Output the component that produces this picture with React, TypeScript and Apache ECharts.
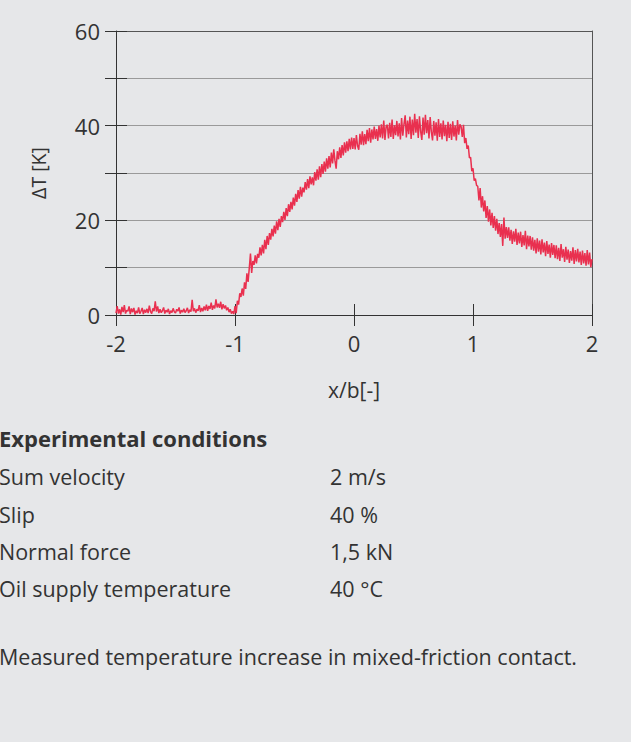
import React, { useEffect, useRef } from "react";
import * as echarts from "echarts";

const X_START = -2;
const X_STEP = 0.01;

// Measured temperature increase ΔT [K], one value per 0.01 of x/b from -2 to 2
const deltaT: number[] = [
  0.4, 1.9, 0.3, 1.2, 0.1, 1.7, 0.6, 2.1, 0.3, 1.0,
  0.8, 1.8, 0.2, 1.4, 0.6, 1.5, 0.1, 0.9, 0.4, 1.6,
  0.3, 0.8, 1.5, 0.2, 1.1, 0.5, 1.3, 0.4, 2.0, 0.7,
  0.3, 1.4, 0.8, 2.9, 0.7, 1.8, 0.4, 1.2, 0.5, 0.9,
  1.6, 0.3, 1.0, 0.6, 1.3, 0.2, 0.9, 0.5, 1.4, 0.7,
  0.4, 1.2, 0.8, 1.6, 0.3, 1.0, 0.6, 1.3, 0.5, 0.9,
  1.5, 0.4, 1.1, 0.7, 3.2, 0.8, 1.4, 0.5, 1.2, 0.9,
  2.1, 0.6, 1.5, 0.8, 1.8, 1.0, 2.2, 0.9, 1.9, 1.3,
  2.6, 1.1, 2.0, 1.4, 3.3, 1.6, 2.4, 1.5, 2.8, 1.2,
  2.3, 1.4, 2.0, 1.0, 1.6, 0.6, 1.2, 0.3, 0.8, 0.2,
  1.9, 0.4, 3.0, 2.2, 4.6, 3.8, 5.6, 4.1, 6.9, 5.5,
  8.8, 7.0, 9.9, 13.0, 8.9, 11.4, 10.6, 12.6, 10.9, 12.9,
  12.1, 14.3, 12.6, 14.8, 13.0, 15.9, 13.9, 16.7, 14.8, 17.3,
  15.9, 18.2, 16.6, 18.9, 17.2, 19.8, 17.9, 20.3, 18.6, 20.9,
  19.6, 21.8, 20.1, 22.6, 20.9, 23.4, 21.8, 23.9, 22.3, 24.8,
  23.1, 25.6, 23.9, 26.4, 24.6, 27.1, 25.0, 26.9, 25.9, 28.1,
  26.5, 28.7, 26.8, 29.3, 27.6, 29.1, 27.4, 30.2, 28.4, 30.8,
  28.6, 31.4, 29.1, 31.9, 29.8, 32.4, 30.3, 33.1, 30.9, 33.6,
  31.2, 34.3, 32.0, 35.0, 32.6, 30.9, 34.6, 32.9, 35.4, 33.2,
  35.9, 33.7, 36.5, 34.3, 36.7, 34.6, 37.2, 35.0, 37.5, 35.1,
  37.4, 35.0, 38.0, 35.7, 34.9, 38.3, 36.0, 38.8, 35.9, 38.2,
  36.1, 39.1, 36.7, 39.5, 36.4, 39.2, 37.1, 39.8, 37.2, 39.3,
  36.8, 40.0, 37.5, 40.3, 37.3, 41.1, 37.0, 39.8, 40.2, 37.3,
  40.6, 37.6, 41.3, 37.2, 40.1, 38.0, 41.0, 37.7, 40.5, 37.1,
  41.6, 37.9, 40.3, 42.2, 37.5, 41.1, 38.2, 41.9, 37.2, 41.3,
  38.0, 42.5, 38.5, 41.4, 37.4, 42.0, 38.8, 37.0, 41.7, 38.1,
  42.3, 38.4, 41.2, 37.3, 41.8, 38.7, 36.9, 41.0, 37.9, 40.7,
  36.8, 41.4, 37.6, 40.5, 37.1, 41.1, 37.8, 40.2, 36.7, 40.8,
  37.4, 40.4, 37.0, 40.9, 37.7, 40.0, 36.9, 41.2, 38.1, 40.3,
  39.8, 37.6, 40.2, 36.3, 37.4, 35.1, 35.8, 33.2, 33.3, 30.4,
  31.0, 28.4, 28.8, 27.4, 27.2, 24.2, 26.8, 22.7, 25.1, 21.9,
  24.2, 20.5, 23.0, 19.7, 22.3, 18.9, 21.6, 18.4, 20.9, 17.8,
  20.3, 17.1, 19.4, 16.5, 19.2, 14.6, 20.6, 16.1, 18.6, 16.3,
  18.5, 15.7, 18.0, 15.0, 17.7, 15.5, 18.2, 14.8, 17.4, 15.1,
  17.6, 14.4, 16.9, 14.7, 17.8, 13.9, 16.8, 14.5, 16.7, 13.8,
  16.4, 13.6, 15.9, 13.0, 16.2, 13.4, 15.7, 12.8, 16.0, 13.2,
  15.3, 12.4, 15.6, 12.9, 14.9, 12.1, 15.2, 12.7, 14.8, 12.0,
  14.7, 11.8, 14.2, 11.4, 15.0, 12.1, 13.9, 11.2, 14.4, 11.7,
  13.8, 11.0, 13.5, 11.5, 14.3, 10.8, 13.7, 11.3, 14.0, 11.1,
  13.4, 10.6, 13.6, 10.9, 13.1, 10.4, 13.7, 10.7, 13.2, 10.1,
  11.8,
];

const yLabelValues = [0, 20, 40, 60];
const conditionLabels = ["Sum velocity", "Slip", "Normal force", "Oil supply temperature"];
const conditionValues = ["2 m/s", "40 %", "1,5 kN", "40 °C"];
const headingText = "Experimental conditions";
const captionText = "Measured temperature increase in mixed-friction contact.";
const xAxisName = "x/b[-]";
const yAxisName = "ΔT [K]";

const BG = "#e6e7e9";
const FONT = '"Open Sans", "Noto Sans", sans-serif';
const TEXT = "#333333";
const FS = 21.5;
const TICK_FS = 22;

export default function App() {
  const ref = useRef<HTMLDivElement>(null);

  useEffect(() => {
    document.body.style.margin = "0";
    document.body.style.background = BG;
    const chart = echarts.init(ref.current!, null, { renderer: "svg" });

    const points = deltaT.map((v, i) => [+(X_START + i * X_STEP).toFixed(2), v]);

    const rowY = [476, 514, 551, 588];
    const graphics: any[] = [
      {
        type: "text",
        style: {
          text: headingText, x: -1, y: 438, fill: TEXT,
          font: `bold 22px ${FONT}`, textVerticalAlign: "middle", verticalAlign: "middle",
        },
      },
      {
        type: "text",
        style: {
          text: captionText, x: -1, y: 656, fill: TEXT,
          font: `${FS}px ${FONT}`, textVerticalAlign: "middle", verticalAlign: "middle",
        },
      },
    ];
    conditionLabels.forEach((t, i) => {
      graphics.push({
        type: "text",
        style: { text: t, x: -1, y: rowY[i], fill: TEXT, font: `${FS}px ${FONT}`, textVerticalAlign: "middle", verticalAlign: "middle" },
      });
      graphics.push({
        type: "text",
        style: { text: conditionValues[i], x: 330, y: rowY[i], fill: TEXT, font: `${FS}px ${FONT}`, textVerticalAlign: "middle", verticalAlign: "middle" },
      });
    });

    const axisColor = "#333333";
    const labelStyle = { fontSize: TICK_FS, color: TEXT, fontFamily: FONT };

    chart.setOption({
      animation: false,
      backgroundColor: BG,
      grid: { left: 116, top: 31, width: 476, height: 284 },
      xAxis: [
        {
          type: "value", min: -2, max: 2, interval: 1, position: "bottom",
          axisLine: { show: true, onZero: false, lineStyle: { color: axisColor, width: 1 } },
          axisTick: { show: true, length: 11, lineStyle: { color: axisColor } },
          axisLabel: { ...labelStyle, margin: 17 },
          splitLine: { show: false },
          name: xAxisName, nameLocation: "middle", nameGap: 64,
          nameTextStyle: { ...labelStyle, fontSize: 21 },
        },
        {
          type: "value", min: -2, max: 2, interval: 1, position: "bottom",
          axisLine: { show: false, onZero: false },
          axisTick: { show: true, inside: true, length: 11, lineStyle: { color: axisColor } },
          axisLabel: { show: false }, splitLine: { show: false },
        },
        {
          type: "value", min: -2, max: 2, interval: 1, position: "top",
          axisLine: { show: true, onZero: false, lineStyle: { color: "#555555", width: 1 } },
          axisTick: { show: false }, axisLabel: { show: false }, splitLine: { show: false },
        },
      ],
      yAxis: [
        {
          type: "value", min: 0, max: 60, interval: 10, position: "left",
          axisLine: { show: true, onZero: false, lineStyle: { color: axisColor, width: 1 } },
          axisTick: { show: true, length: 11, lineStyle: { color: axisColor } },
          axisLabel: {
            ...labelStyle, margin: 16,
            formatter: (v: number) => (yLabelValues.indexOf(v) >= 0 ? String(v) : ""),
          },
          splitLine: { show: true, lineStyle: { color: "#9a9a9a", width: 1 } },
          name: yAxisName, nameLocation: "middle", nameGap: 68, nameRotate: 90,
          nameTextStyle: { ...labelStyle, fontSize: 19.5 },
        },
        {
          type: "value", min: 0, max: 60, interval: 10, position: "left",
          axisLine: { show: false, onZero: false },
          axisTick: { show: true, inside: true, length: 11, lineStyle: { color: axisColor } },
          axisLabel: { show: false }, splitLine: { show: false },
        },
        {
          type: "value", min: 0, max: 60, interval: 10, position: "right",
          axisLine: { show: true, onZero: false, lineStyle: { color: "#555555", width: 1 } },
          axisTick: { show: false }, axisLabel: { show: false }, splitLine: { show: false },
        },
      ],
      series: [
        {
          type: "line", xAxisIndex: 0, yAxisIndex: 0, data: points,
          showSymbol: false, symbol: "none",
          lineStyle: { color: "#e9304f", width: 1.5 },
          z: 5,
        },
      ],
      graphic: graphics,
    });

    return () => chart.dispose();
  }, []);

  return <div ref={ref} style={{ width: 631, height: 742 }} />;
}
